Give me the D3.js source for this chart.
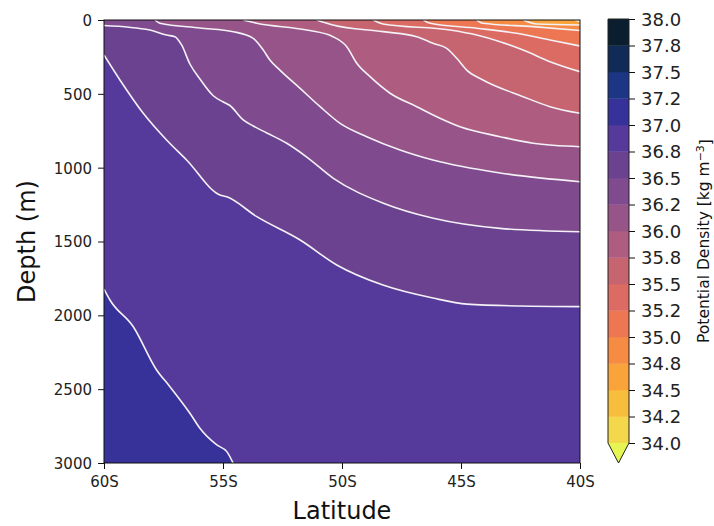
<!DOCTYPE html>
<html><head><meta charset="utf-8">
<script src="https://cdn.jsdelivr.net/npm/d3@7"></script>
<style>body{margin:0;background:#fff}svg{display:block}</style>
</head><body><svg id="c" width="714" height="526"></svg>
<script>
// ---- data ----
const latTicks = [-60, -55, -50, -45, -40];
const latTickLabels = ["60S", "55S", "50S", "45S", "40S"];
const depthTicks = [0, 500, 1000, 1500, 2000, 2500, 3000];

// isolines: [latitude, depth(m)]
const rho34_50 = [[-40.21, 0], [-40, 10]];
const rho34_75 = [[-42.38, 0], [-41.82, 27], [-40, 34]];
const rho35_00 = [[-44.34, 0], [-44.08, 22], [-41.97, 45], [-40, 71]];
const rho35_25 = [[-46.58, 0], [-46.3, 22], [-44.34, 56], [-42.66, 90], [-41.26, 135], [-40, 176]];
const rho35_50 = [[-48.68, 0], [-48.28, 27], [-45.46, 68], [-44.34, 102], [-43.36, 147], [-42.39, 203], [-41.26, 282], [-40, 350]];
const rho35_75 = [[-51.06, 0], [-50.38, 34], [-48.28, 79], [-46.86, 113], [-46.18, 158], [-45.6, 192], [-45.18, 259], [-44.76, 339], [-44.08, 406], [-42.39, 519], [-41.26, 587], [-40, 632]];
const rho36_00 = [[-54.15, 0], [-53.58, 22], [-51.48, 68], [-50.38, 113], [-49.8, 181], [-49.38, 293], [-48.82, 384], [-47.98, 496], [-46.86, 587], [-46.02, 655], [-45.04, 723], [-43.36, 790], [-41.97, 835], [-40, 858]];
const rho36_25 = [[-57.86, 0], [-57.65, 22], [-55.97, 54], [-54.57, 79], [-53.73, 124], [-53.31, 203], [-53.03, 271], [-52.61, 339], [-51.76, 463], [-50.92, 587], [-50.08, 700], [-48.96, 790], [-47.56, 880], [-46.18, 948], [-43.36, 1036], [-40, 1095]];
const rho36_50 = [[-60, 37], [-58.07, 68], [-57.37, 102], [-57.02, 113], [-56.74, 169], [-56.39, 298], [-55.97, 400], [-55.41, 513], [-54.99, 555], [-54.71, 579], [-54.15, 677], [-53.73, 718], [-53.16, 765], [-52.32, 835], [-51.48, 928], [-50.36, 1072], [-48.26, 1241], [-46.16, 1343], [-43.36, 1411], [-40, 1434]];
const rho36_75 = [[-60, 237], [-59.33, 406], [-58.35, 632], [-57.37, 813], [-56.53, 948], [-55.13, 1185], [-54.84, 1197], [-53.58, 1332], [-51.76, 1490], [-50.22, 1659], [-48.28, 1795], [-46.18, 1883], [-44.75, 1924], [-42.52, 1937], [-40, 1941]];
const rho37_00 = [[-60, 1822], [-59.75, 1896], [-58.77, 2077], [-57.79, 2370], [-57.23, 2483], [-56.39, 2663], [-55.97, 2765], [-55.26, 2878], [-54.84, 2923], [-54.57, 3002]];

const isoLevels = [34.5, 34.75, 35.0, 35.25, 35.5, 35.75, 36.0, 36.25, 36.5, 36.75, 37.0];
const isoLines = [rho34_50, rho34_75, rho35_00, rho35_25, rho35_50, rho35_75, rho36_00, rho36_25, rho36_50, rho36_75, rho37_00];

const cbLevels = [34.0, 34.25, 34.5, 34.75, 35.0, 35.25, 35.5, 35.75, 36.0, 36.25, 36.5, 36.75, 37.0, 37.25, 37.5, 37.75, 38.0];
const cbLabels = ["34.0", "34.2", "34.5", "34.8", "35.0", "35.2", "35.5", "35.8", "36.0", "36.2", "36.5", "36.8", "37.0", "37.2", "37.5", "37.8", "38.0"];
const bandColors = ["#f2d84a", "#f7bd3d", "#f9a43b", "#f68c43", "#ec7752", "#db6b63", "#c6646f", "#ae5c7f", "#965489", "#7f4a8e", "#6b4290", "#553a9b", "#37329a", "#1d3585", "#0f2b56", "#0a1e30"];
const underColor = "#e6f553";

// ---- drawing ----
const svg = d3.select("#c");
const font = "DejaVu Sans, sans-serif";
const x = d3.scaleLinear().domain([-60, -40]).range([104, 580]);
const y = d3.scaleLinear().domain([0, 3000]).range([20, 463]);
const colorOf = d3.scaleThreshold().domain(cbLevels.slice(1, -1)).range(bandColors);

svg.append("clipPath").attr("id", "clip").append("rect")
  .attr("x", x(-60)).attr("y", y(0)).attr("width", x(-40) - x(-60)).attr("height", y(3000) - y(0));
const plot = svg.append("g").attr("clip-path", "url(#clip)");

// base fill: band lighter than the first isoline
plot.append("rect").attr("x", x(-60)).attr("y", y(0))
  .attr("width", x(-40) - x(-60)).attr("height", y(3000) - y(0))
  .attr("fill", colorOf(isoLevels[0] - 0.1));

const area = d3.area().curve(d3.curveMonotoneX)
  .x(d => x(d[0])).y0(y(3000)).y1(d => y(d[1]));
const line = d3.line().curve(d3.curveMonotoneX)
  .x(d => x(d[0])).y(d => y(d[1]));

isoLines.forEach((pts, i) => {
  const padded = (pts[0][0] > -60) ? [[-60, 0]].concat(pts) : pts;
  plot.append("path").attr("d", area(padded))
    .attr("fill", colorOf(isoLevels[i] + 0.1)).attr("stroke", colorOf(isoLevels[i] + 0.1)).attr("stroke-width", 0.5);
});
isoLines.forEach(pts => {
  plot.append("path").attr("d", line(pts))
    .attr("fill", "none").attr("stroke", "#f4f2f6").attr("stroke-width", 1.6);
});

// frame
svg.append("rect").attr("x", x(-60)).attr("y", y(0))
  .attr("width", x(-40) - x(-60)).attr("height", y(3000) - y(0))
  .attr("fill", "none").attr("stroke", "#111").attr("stroke-width", 1);

// axes
const ax = svg.append("g").attr("transform", `translate(0,${y(3000)})`)
  .call(d3.axisBottom(x).tickValues(latTicks).tickFormat((d, i) => latTickLabels[i]).tickSize(6).tickPadding(7));
const ay = svg.append("g").attr("transform", `translate(${x(-60)},0)`)
  .call(d3.axisLeft(y).tickValues(depthTicks).tickSize(6).tickPadding(6).tickFormat(d3.format("d")));
[ax, ay].forEach(g => {
  g.select(".domain").remove();
  g.selectAll("text").attr("font-family", font).attr("font-size", 15).attr("fill", "#222");
  g.selectAll("line").attr("stroke", "#111");
});
ay.selectAll("text").attr("dy", "0.36em");

svg.append("text").attr("x", x(-50)).attr("y", 519).attr("text-anchor", "middle")
  .attr("font-family", font).attr("font-size", 24).attr("fill", "#111").text("Latitude");
svg.append("text").attr("transform", `translate(35,${(y(0) + y(3000)) / 2}) rotate(-90)`)
  .attr("text-anchor", "middle").attr("font-family", font).attr("font-size", 24).attr("fill", "#111").text("Depth (m)");

// colorbar
const cbX = 608, cbW = 21;
const yc = d3.scaleLinear().domain([34, 38]).range([443, 19]);
const cb = svg.append("g");
bandColors.forEach((c, i) => {
  cb.append("rect").attr("x", cbX).attr("width", cbW)
    .attr("y", yc(cbLevels[i + 1])).attr("height", yc(cbLevels[i]) - yc(cbLevels[i + 1]) + 0.3)
    .attr("fill", c);
});
cb.append("path").attr("d", `M${cbX},${yc(34)}L${cbX + cbW},${yc(34)}L${cbX + cbW / 2},${yc(34) + 20}Z`).attr("fill", underColor);
cb.append("path").attr("d", `M${cbX},${yc(38)}L${cbX + cbW},${yc(38)}L${cbX + cbW},${yc(34)}L${cbX + cbW / 2},${yc(34) + 20}L${cbX},${yc(34)}Z`)
  .attr("fill", "none").attr("stroke", "#222").attr("stroke-width", 1);
const acb = svg.append("g").attr("transform", `translate(${cbX + cbW},0)`)
  .call(d3.axisRight(yc).tickValues(cbLevels).tickFormat((d, i) => cbLabels[i]).tickSize(6).tickPadding(6));
acb.select(".domain").remove();
acb.selectAll("text").attr("font-family", font).attr("font-size", 18).attr("fill", "#222").attr("dy", "0.36em");
acb.selectAll("line").attr("stroke", "#111");

const lab = svg.append("text").attr("transform", `translate(709,${(yc(34) + yc(38)) / 2 + 10}) rotate(-90)`)
  .attr("text-anchor", "middle").attr("font-family", font).attr("font-size", 15.5).attr("fill", "#111");
lab.append("tspan").text("Potential Density [kg m");
lab.append("tspan").attr("dy", "-0.45em").attr("font-size", 11).text("−3");
lab.append("tspan").attr("dy", "0.45em").text("]");
</script></body></html>
